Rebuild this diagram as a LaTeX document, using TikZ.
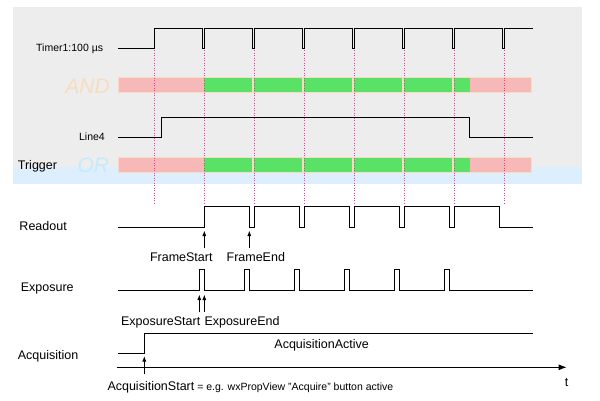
\documentclass[tikz,border=0pt]{standalone}
\usepackage{fontspec}
\setmainfont{Liberation Sans}
\usetikzlibrary{arrows.meta}

\definecolor{panelgray}{HTML}{EDEDED}
\definecolor{panelblue}{HTML}{DDEFFC}
\definecolor{barpink}{HTML}{F7B8B8}
\definecolor{bargreen}{HTML}{5AE266}
\definecolor{barrim}{HTML}{F6DCC2}
\definecolor{andtext}{HTML}{F8DCC2}
\definecolor{ortext}{HTML}{C6EAFC}
\definecolor{tickpink}{HTML}{FF2DA6}

\tikzset{
	signal/.style = {line width=0.9pt, line join=miter},
	tick/.style = {tickpink, line width=0.8pt, dash pattern=on 1pt off 1.5pt},
	biglabel/.style = {inner sep=0pt, font=\fontsize{12.5}{14}\selectfont},
	smalllabel/.style = {inner sep=0pt, font=\fontsize{10.5}{12}\selectfont},
	gatelabel/.style = {inner sep=0pt, font=\fontsize{21}{24}\selectfont\itshape},
	marker/.style = {->, >={Latex[length=5.5pt, width=4pt]}, line width=0.9pt}
}

\begin{document}
\begin{tikzpicture}[x=1pt, y=-1pt]
	\useasboundingbox (0,0) rectangle (600,400);

	% panels
	\fill [panelgray] (13,7) rectangle (582,167);
	\fill [panelblue] (13,167) rectangle (582,184);

	% AND / OR bars
	\foreach \y in {77.3, 157.3} {
		\draw [barrim, fill=barpink, line width=1pt] 
			(118.3,\y) rectangle (531.7,\y+15.4);
		\fill [barrim] (204,\y) rectangle (470,\y+15.4);
		\foreach \a/\b in {204/252, 254/302, 304/352, 354/402, 404/452, 454/470}
			\fill [bargreen] (\a,\y+0.8) rectangle (\b,\y+14.6);
	}

	% Timer1
	\draw [signal] (118.3,48.3) -- (154.3,48.3) -- (154.3,28.3)
		\foreach \x in {202.3, 252.3, 302.3, 352.3, 402.3, 452.3, 502.3} 
			{ -- (\x,28.3) -- (\x,48.3) -- (\x+2.2,48.3) -- (\x+2.2,28.3) }
		-- (532.7,28.3);

	% Line4
	\draw [signal] (118.3,137) -- (161.7,137) -- (161.7,117.3) 
		-- (469.3,117.3) -- (469.3,137) -- (532.7,137);

	% Readout
	\draw [signal] (118.3,227.3) -- (204.3,227.3) -- (204.3,206)
		\foreach \x in {249.3, 299.3, 349.3, 399.3, 449.3} 
			{ -- (\x,206) -- (\x,227.3) -- (\x+5,227.3) -- (\x+5,206) }
		-- (499.3,206) -- (499.3,227.3) -- (532.7,227.3);

	% Exposure
	\draw [signal] (118.3,290)
		\foreach \x in {199.3, 244.3, 294.3, 344.3, 394.3, 444.3} 
			{ -- (\x,290) -- (\x,269.3) -- (\x+5,269.3) -- (\x+5,290) }
		-- (532.7,290);

	% Acquisition
	\draw [signal] (118.3,353.3) -- (144.3,353.3) -- (144.3,333.3) 
		-- (532.7,333.3);

	% time axis
	\coordinate (t0) at (117.3,367.3);
	\coordinate (t1) at (566.7,367.3);
	\draw [signal, ->, >={Latex[length=8pt, width=6pt]}] (t0) to (t1);

	% trigger ticks
	\foreach \x in {154.3, 204.3, 254.3, 304.3, 354.3, 404.3, 454.3, 504.3}
		\draw [tick] (\x,50) -- (\x,203);

	% labels
	\node [smalllabel, anchor=base east] (timer) at (103.3,51) 
		{Timer1:100 µs};
	\node [smalllabel, anchor=base east] (line4) at (105,140.5) 
		{Line4};
	\node [gatelabel, andtext, anchor=base] (and) at (87.5,93.3) 
		{AND};
	\node [gatelabel, ortext, anchor=base] (or) at (93.3,172) 
		{OR};
	\node [biglabel, anchor=base west] (trigger) at (17.7,169.5) 
		{Trigger};
	\node [biglabel, anchor=base west] (readout) at (19.3,230.7) 
		{Readout};
	\node [biglabel, anchor=base] (framestart) at (181.3,261.7) 
		{FrameStart};
	\node [biglabel, anchor=base] (frameend) at (255.8,261.7) 
		{FrameEnd};
	\node [biglabel, anchor=base west] (exposure) at (20.7,291) 
		{Exposure};
	\node [biglabel, anchor=base east] (expstart) at (200.5,325) 
		{ExposureStart};
	\node [biglabel, anchor=base west] (expend) at (204.3,325) 
		{ExposureEnd};
	\node [biglabel, anchor=base west] (acquisition) at (17.7,359.3) 
		{Acquisition};
	\node [biglabel, anchor=base] (acqactive) at (321.7,348.3) 
		{AcquisitionActive};
	\node [biglabel, anchor=base west] (acqstart) at (107.3,390) 
		{AcquisitionStart{\fontsize{10.5}{12}\selectfont{} = e.g. wxPropView "Acquire" button active}};
	\node [biglabel, anchor=base] (t) at (566.7,386.7) 
		{t};

	% event markers
	\coordinate (fs tail) at (204.3,248);
	\coordinate (fs tip) at (204.3,230.5);
	\coordinate (fe tail) at (249.3,248);
	\coordinate (fe tip) at (249.3,230.5);
	\coordinate (es tail) at (199.3,311.7);
	\coordinate (es tip) at (199.3,294.5);
	\coordinate (ee tail) at (204.3,311.7);
	\coordinate (ee tip) at (204.3,294.5);
	\coordinate (as tail) at (144.3,373.5);
	\coordinate (as tip) at (144.3,356);
	\draw [marker] (fs tail) to (fs tip);
	\draw [marker] (fe tail) to (fe tip);
	\draw [marker] (es tail) to (es tip);
	\draw [marker] (ee tail) to (ee tip);
	\draw [marker] (as tail) to (as tip);
\end{tikzpicture}
\end{document}
